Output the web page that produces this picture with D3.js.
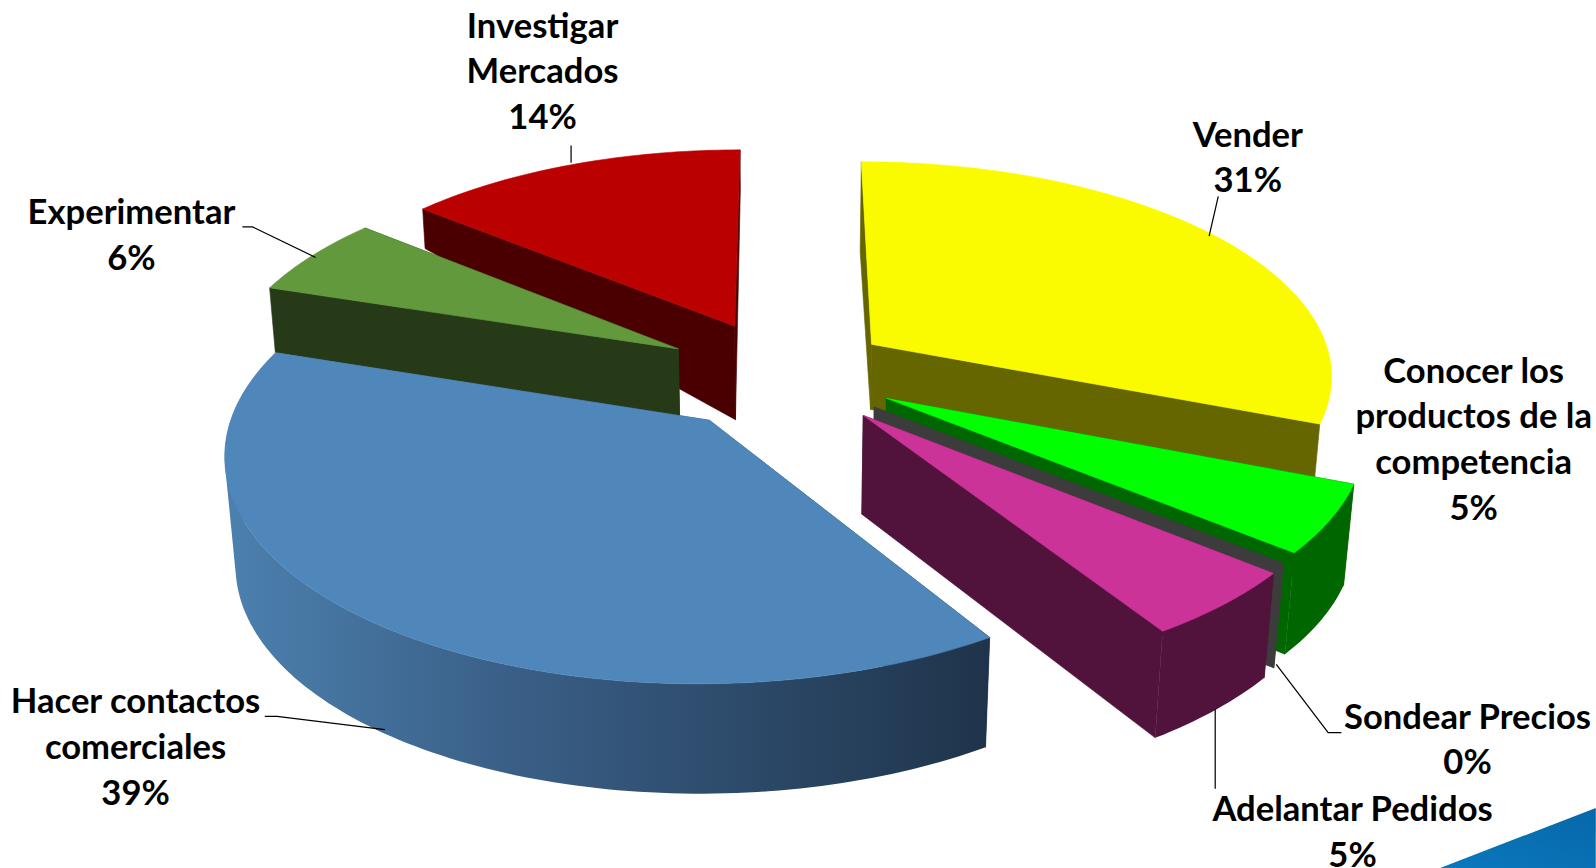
<!DOCTYPE html>
<html>
<head>
<meta charset="utf-8">
<title>Pie</title>
<script src="https://d3js.org/d3.v7.min.js"></script>
<style>
  html, body { margin: 0; background: #fff; overflow: hidden; }
  svg { display: block; }
  text { font-family: Lato, "Open Sans", sans-serif; font-weight: 700; font-size: 34px; fill: #000; }
</style>
</head>
<body>
<svg width="1596" height="868" viewBox="0 0 1568 853"></svg>
<script>
// chart values, clockwise from the top
var categories = ["Vender", "Conocer los productos de la competencia", "Sondear Precios", "Adelantar Pedidos", "Hacer contactos comerciales", "Experimentar", "Investigar Mercados"];
var percents = [31, 5, 0, 5, 39, 6, 14];

// look of each slice, same order
var topColors = ["#FBFB00", "#00FF00", "#404040", "#CC3399", "#4F87BB", "#63993D", "#BB0000"];
var wallColors = ["#666600", "#006600", "#3C3C3C", "#51133C", "url(#blueWall)", "#263A18", "#4A0000"];
var explode = [0.235, 0.255, 0.25, 0.255, 0.25, 0.26, 0.25];
var nudgeV = [0.02, 0.03, 0.02, 0.015, 0, 0.005, 0.015];   // small lift away from the viewer
var radius = [0.995, 1, 1, 1, 1, 0.985, 0.98];
var wallApex = [64, 96, 103, 97, 108, 68, 92];
var wallStart = [88, 100, 103, 103, 108, 64, 39];
var wallEnd = [58, 100, 103, 105, 108, 64, 39];
var hasRimWall = [false, true, true, true, true, false, false];

// label text lines and where they sit
var labelLines = [["Vender"], ["Conocer los", "productos de la", "competencia"], ["Sondear Precios"], ["Adelantar Pedidos"], ["Hacer contactos", "comerciales"], ["Experimentar"], ["Investigar", "Mercados"]];
var labelX = [1226, 1448, 1442, 1329, 133, 129, 533];
var labelY = [144, 376, 716, 807, 701, 220, 37];
var leaders = [
  [[1188, 232], [1197, 193]],
  [[1254, 653], [1305, 720], [1318, 720]],
  [[1194, 697], [1194, 775]],
  [[378, 717], [272, 704], [260, 704]],
  [[310, 253], [248, 223], [238, 223]],
  [[561, 160], [561, 143]]
];

// camera: the pie lies on a tilted plane seen in perspective
var cx = 769, cy = 370, S = 458, St = 212, p = 0.133;
var vanishX = 769, vanishY = 6000;
var lineH = 45;

function project(X, V) {
  var w = 1 + p * V;
  return [cx + S * X / w, cy - St * V / w];
}
function drop(pt, d) {   // push a top point down the side of the slice
  var dx = vanishX - pt[0], dy = vanishY - pt[1];
  var len = Math.sqrt(dx * dx + dy * dy);
  return [pt[0] + dx / len * d, pt[1] + dy / len * d];
}

var svg = d3.select("svg");
var defs = svg.append("defs");
var grad = defs.append("linearGradient").attr("id", "blueWall")
    .attr("gradientUnits", "userSpaceOnUse")
    .attr("x1", 225).attr("x2", 970).attr("y1", 0).attr("y2", 0);
grad.append("stop").attr("offset", "0").attr("stop-color", "#4C80AE");
grad.append("stop").attr("offset", "0.37").attr("stop-color", "#3A5F87");
grad.append("stop").attr("offset", "1").attr("stop-color", "#1F344B");
var cornerGrad = defs.append("linearGradient").attr("id", "corner")
    .attr("x1", 0).attr("x2", 1).attr("y1", 1).attr("y2", 0);
cornerGrad.append("stop").attr("offset", "0").attr("stop-color", "#0A78BE");
cornerGrad.append("stop").attr("offset", "1").attr("stop-color", "#0668A8");

// corner of the slide template
svg.append("path")
    .attr("d", "M1415,853L1568,794L1568,853Z")
    .attr("fill", "url(#corner)");

var pie = d3.pie().sort(null).value(function(d) { return d; });
var arcs = pie(percents);
var line = d3.line();

// back slices first
var drawOrder = [6, 5, 0, 1, 2, 3, 4];

drawOrder.forEach(function(i) {
  var a = arcs[i];
  var mid = (a.startAngle + a.endAngle) / 2;
  var X0 = explode[i] * Math.sin(mid), V0 = explode[i] * Math.cos(mid) + nudgeV[i];
  var apex = project(X0, V0);
  var rim = [], rimBottom = [];
  var steps = Math.max(1, Math.ceil((a.endAngle - a.startAngle) / 0.02));
  d3.range(steps + 1).forEach(function(k) {
    var t = k / steps;
    var th = a.startAngle + (a.endAngle - a.startAngle) * t;
    var pt = project(X0 + radius[i] * Math.sin(th), V0 + radius[i] * Math.cos(th));
    rim.push(pt);
    rimBottom.push(drop(pt, wallStart[i] + (wallEnd[i] - wallStart[i]) * t));
  });
  var apexBottom = drop(apex, wallApex[i]);
  var g = svg.append("g");
  var walls = [
    [apex, rim[0], rimBottom[0], apexBottom],
    [apex, rim[steps], rimBottom[steps], apexBottom]
  ];
  walls.forEach(function(w) {
    g.append("path").attr("d", line(w) + "Z")
        .attr("fill", wallColors[i]).attr("stroke", wallColors[i]).attr("stroke-width", 0.6);
  });
  // rim wall: one path of small quads all turning the same way, a single band
  // folds over itself at the silhouette and leaves a hole
  if (hasRimWall[i] && steps > 1) {
    var d = d3.range(steps).map(function(k) {
      var q = [rim[k], rim[k + 1], rimBottom[k + 1], rimBottom[k]];
      if (d3.polygonArea(q) < 0) q.reverse();
      return line(q) + "Z";
    }).join("");
    g.append("path").attr("d", d).attr("fill", wallColors[i]);
  }
  if (percents[i] > 0) {
    g.append("path").attr("d", line([apex].concat(rim)) + "Z")
        .attr("fill", topColors[i]).attr("stroke", topColors[i]).attr("stroke-width", 0.6);
  }
});

// leader lines
svg.selectAll(".leader")
    .data(leaders)
  .enter().append("path")
    .attr("class", "leader")
    .attr("d", function(d) { return line(d); })
    .attr("fill", "none")
    .attr("stroke", "#000")
    .attr("stroke-width", 1.2);

// labels
categories.forEach(function(c, i) {
  var lines = labelLines[i].concat([percents[i] + "%"]);
  lines.forEach(function(t, j) {
    svg.append("text")
        .attr("x", labelX[i])
        .attr("y", labelY[i] + j * lineH)
        .attr("text-anchor", "middle")
        .text(t);
  });
});
</script>
</body>
</html>
